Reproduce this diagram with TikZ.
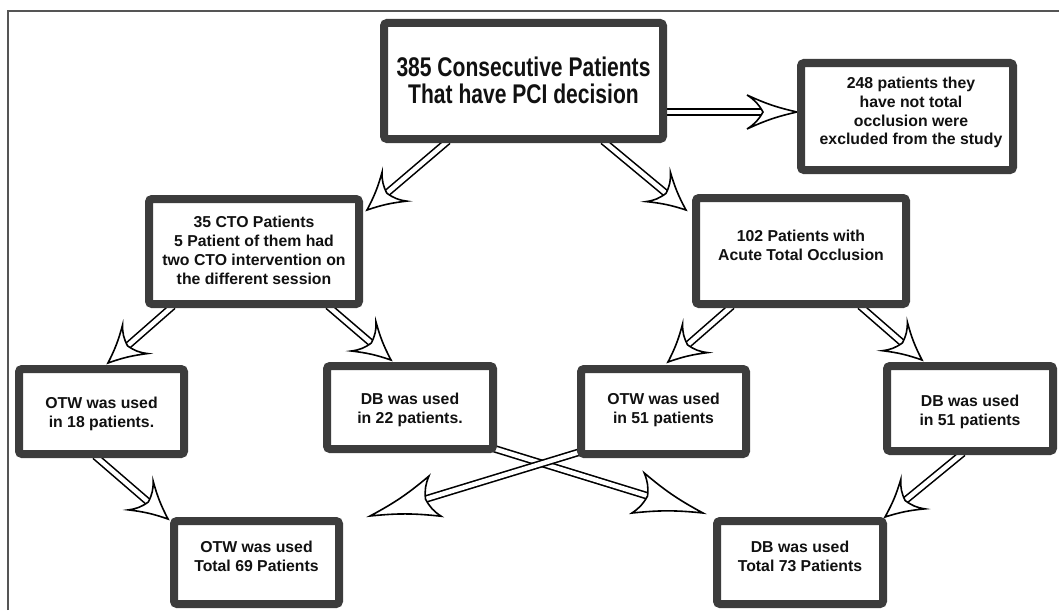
\documentclass[tikz,border=0pt]{standalone}
\usepackage{fontspec}
\setmainfont{Liberation Sans}
\newfontfamily\headfont[FakeStretch=0.78]{Liberation Sans}
\usetikzlibrary{calc,backgrounds}
\definecolor{boxc}{HTML}{3C3C3C}
\definecolor{framec}{HTML}{555555}
\definecolor{textc}{HTML}{111111}
\tikzset{
  box/.style={draw=boxc, line width=8pt, fill=white, rounded corners=3pt, inner sep=0pt},
  txt/.style={align=center, text=textc, font=\fontsize{15.8}{18.9}\selectfont\bfseries, inner sep=0pt},
  bigtxt/.style={align=center, text=textc, font=\headfont\fontsize{27}{26.8}\selectfont\bfseries, inner sep=0pt},
  shaft/.style={draw=black, line width=1.6pt, double=white, double distance=4.5pt},
  headshape/.style={draw=black, fill=white, line width=1.6pt, line join=miter},
}
% #1 start, #2 tip, #3 head length, #4 notch distance, #5 half width
\newcommand\flowarrow[5]{%
  \pgfmathsetlengthmacro\shaftend{#4-4pt}%
  \path ($(#2)!#3!(#1)$) coordinate (hb) ($(#2)!#4!(#1)$) coordinate (hn)
        ($(#2)!\shaftend!(#1)$) coordinate (hs)
        ($(hb)!#5!90:(#2)$) coordinate (hl) ($(hb)!#5!-90:(#2)$) coordinate (hr);
  \draw[shaft] (#1) -- (hs);
  \draw[headshape] (#2) to[bend left=6] (hl) to[bend left=14] (hn)
        to[bend left=14] (hr) to[bend left=6] cycle;
}
\begin{document}
\begin{tikzpicture}[x=1pt,y=-1pt]
\useasboundingbox (0,0) rectangle (1059,610);
\draw[framec, line width=1.4pt] (8,610) -- (8,11) -- (1059,11);

% boxes
\node[box, minimum width=279pt, minimum height=116pt] (A) at (523.5,81) {};
\node[box, minimum width=212pt, minimum height=107pt] (B) at (907,116.5) {};
\node[box, minimum width=210pt, minimum height=105pt] (C) at (254,251.5) {};
\node[box, minimum width=210pt, minimum height=106pt] (D) at (801,251) {};
\node[box, minimum width=165pt, minimum height=85pt] (E) at (101.5,411.5) {};
\node[box, minimum width=166pt, minimum height=83pt] (F) at (410,407.5) {};
\node[box, minimum width=165pt, minimum height=85pt] (G) at (663.5,411.5) {};
\node[box, minimum width=166pt, minimum height=85pt] (H) at (970,408.5) {};
\node[box, minimum width=165pt, minimum height=83pt] (I) at (256.5,562.5) {};
\node[box, minimum width=166pt, minimum height=83pt] (J) at (800,562.5) {};

% texts
\node[bigtxt] (At) at ($(A.center)+(0,-1)$) {385 Consecutive Patients\\That have PCI decision};
\node[txt] (Bt) at ($(B.center)+(4,-4)$) {248 patients they\\have not total\\occlusion were\\excluded from the study};
\node[txt] (Ct) at ($(C.center)+(0,-1.5)$) {35 CTO Patients\\5 Patient of them had\\two CTO intervention on\\the different session};
\node[txt] (Dt) at ($(D.center)+(0,-5.5)$) {102 Patients with\\Acute Total Occlusion};
\node[txt] (Et) at ($(E.center)+(0,2)$) {OTW was used\\in 18 patients.};
\node[txt] (Ft) at ($(F.center)+(0,2.5)$) {DB was used\\in 22 patients.};
\node[txt] (Gt) at ($(G.center)+(0,-1.5)$) {OTW was used\\in 51 patients};
\node[txt] (Ht) at ($(H.center)+(0,3.5)$) {DB was used\\in 51 patients};
\node[txt] (It) at ($(I.center)+(0,-6)$) {OTW was used\\Total 69 Patients};
\node[txt] (Jt) at ($(J.center)+(0,-6)$) {DB was used\\Total 73 Patients};

% connector end points
\coordinate (ab1) at (663,112);  \coordinate (ab2) at (797,112);
\coordinate (ac1) at (448,141);  \coordinate (ac2) at (367,210);
\coordinate (ad1) at (603,141);  \coordinate (ad2) at (686,210);
\coordinate (ce1) at (173,306);  \coordinate (ce2) at (108,363);
\coordinate (cf1) at (328,306);  \coordinate (cf2) at (391,360);
\coordinate (dg1) at (732,306);  \coordinate (dg2) at (668,362);
\coordinate (dh1) at (860,306);  \coordinate (dh2) at (922,360);
\coordinate (ei1) at (95,456);   \coordinate (ei2) at (168,519);
\coordinate (fj1) at (492,448);  \coordinate (fj2) at (703,513);
\coordinate (gi1) at (583,451);  \coordinate (gi2) at (370,516);
\coordinate (hj1) at (963,453);  \coordinate (hj2) at (885,517);

\begin{scope}[on background layer]
  \flowarrow{ab1}{ab2}{50pt}{34pt}{17pt}
  \flowarrow{ac1}{ac2}{36pt}{26pt}{19pt}
  \flowarrow{ad1}{ad2}{36pt}{26pt}{19pt}
  \flowarrow{ce1}{ce2}{36pt}{26pt}{19pt}
  \flowarrow{cf1}{cf2}{36pt}{26pt}{19pt}
  \flowarrow{dg1}{dg2}{36pt}{26pt}{19pt}
  \flowarrow{dh1}{dh2}{36pt}{26pt}{19pt}
  \flowarrow{ei1}{ei2}{36pt}{26pt}{19pt}
  \flowarrow{fj1}{fj2}{68pt}{58pt}{21pt}
  \flowarrow{gi1}{gi2}{68pt}{58pt}{21pt}
  \flowarrow{hj1}{hj2}{36pt}{26pt}{19pt}
\end{scope}
\end{tikzpicture}
\end{document}
